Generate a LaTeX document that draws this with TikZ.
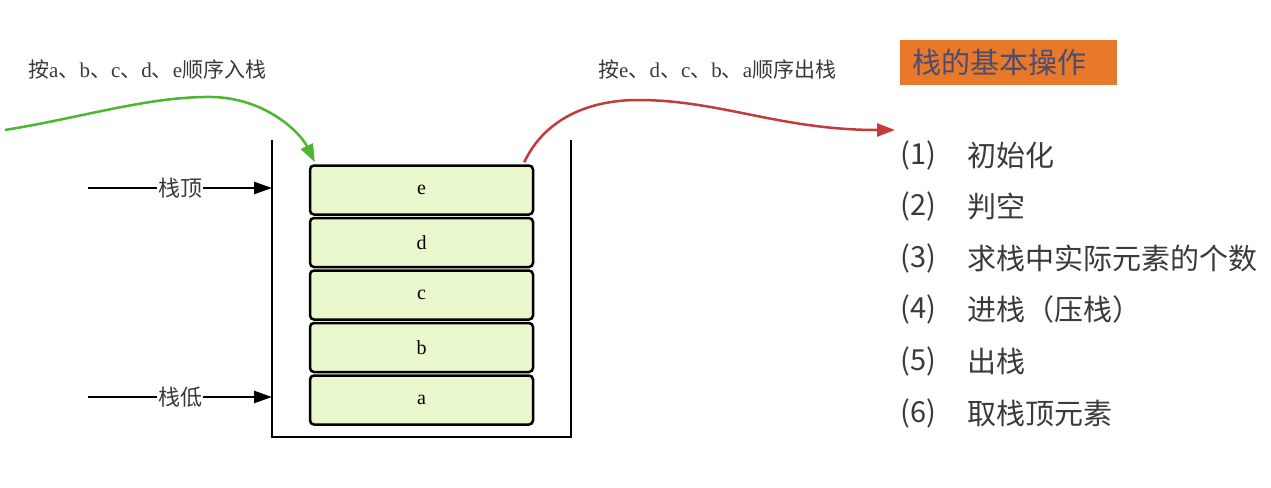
\documentclass[tikz,border=0pt]{standalone}
\usepackage{fontspec}
\setmainfont{Liberation Serif}
\newfontfamily\cjk{Noto Sans CJK SC}
\newcommand{\zhtext}[1]{{\cjk #1}}
\usetikzlibrary{arrows.meta,positioning}
\definecolor{cellgreen}{HTML}{E8F8CC}
\definecolor{pushgreen}{HTML}{4DB52E}
\definecolor{popred}{HTML}{C53A3A}
\definecolor{titleorange}{HTML}{E8782A}
\definecolor{titleblue}{HTML}{4A4D72}
\definecolor{listgray}{HTML}{3A3A3A}
\tikzset{
	cell/.style={draw=black,line width=2.5pt,rounded corners=4pt,fill=cellgreen,
		minimum width=223pt,minimum height=49pt,inner sep=0pt,
		font=\fontsize{20}{20}\selectfont},
	wall/.style={line width=2.5pt},
	pointer/.style={line width=2.5pt,-{Triangle[length=18pt,width=12pt]}},
	tag/.style={fill=white,inner xsep=1pt,inner ysep=0pt,text=listgray,font=\cjk\fontsize{22}{22}\selectfont},
	flow/.style={line width=2.5pt,-{Triangle[length=18pt,width=13pt]}},
	caption/.style={text=listgray,font=\fontsize{21}{21}\selectfont,inner sep=0pt},
	title/.style={fill=titleorange,text=titleblue,minimum width=217pt,minimum height=45pt,
		text width=193pt,inner xsep=12pt,font=\cjk\fontsize{29}{29}\selectfont},
	num/.style={text=listgray,inner sep=0pt,font=\cjk\fontsize{29}{29}\selectfont},
	item/.style={text=listgray,inner sep=0pt,font=\cjk\fontsize{29}{29}\selectfont}
}

\begin{document}
\begin{tikzpicture}[x=1pt,y=-1pt]
	\useasboundingbox[fill=white] (0,0) rectangle (1271,487);

	\coordinate (wallL) at (272,140);
	\coordinate (wallR) at (571,140);
	\draw[wall] (wallL) -- ++(0,297) -| (wallR);

	\foreach \l [count=\i from 0] in {a,b,c,d,e}
		\node[cell] (\l) at (421.5,400-52.5*\i) {\l};

	\coordinate (topsrc) at (88,188);
	\coordinate (botsrc) at (88,397);
	\draw[pointer] (topsrc) -- node[tag]{栈顶} (topsrc-|wallL);
	\draw[pointer] (botsrc) -- node[tag]{栈低} (botsrc-|wallL);

	\node[caption,anchor=west] (pushtxt) at (28,70)
		{\zhtext{按}a\zhtext{、}b\zhtext{、}c\zhtext{、}d\zhtext{、}e\zhtext{顺序入栈}};
	\node[caption,anchor=west] (poptxt) at (598,70)
		{\zhtext{按}e\zhtext{、}d\zhtext{、}c\zhtext{、}b\zhtext{、}a\zhtext{顺序出栈}};

	\coordinate (pushsrc) at (5,130);
	\coordinate (popdst) at (895,130);
	\draw[flow,draw=pushgreen,-{Triangle[length=18pt,width=13pt,fill=pushgreen]}]
		(pushsrc) .. controls (80,118) and (150,96) .. (212,97)
		.. controls (265,98) and (300,132) .. ([xshift=6pt,yshift=2pt]e.north west);
	\draw[flow,draw=popred]
		([xshift=-10pt,yshift=2pt]e.north east) .. controls (545,118) and (590,100) .. (638,100)
		.. controls (720,100) and (780,130) .. (popdst);

	\node[title,anchor=north west] (ops) at (900,40) {栈的基本操作};

	\foreach \t [count=\i] in {初始化,判空,求栈中实际元素的个数,进栈（压栈）,出栈,取栈顶元素}
	{
		\node[num,anchor=west] (n\i) at (900,155+51.6*\i-51.6) {(\i)};
		\node[item,anchor=west] (t\i) at (967,155+51.6*\i-51.6) {\t};
	}
\end{tikzpicture}
\end{document}
